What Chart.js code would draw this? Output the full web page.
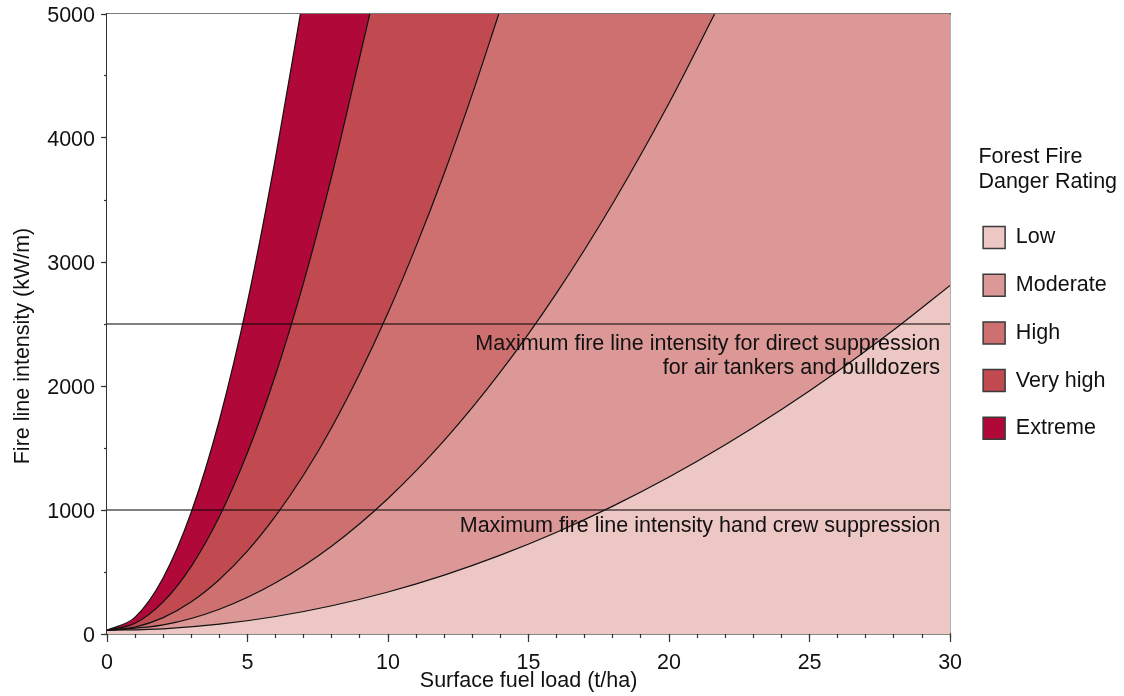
<!DOCTYPE html>
<html>
<head>
<meta charset="utf-8">
<script src="https://cdn.jsdelivr.net/npm/chart.js@4.4.1/dist/chart.umd.min.js"></script>
<style>
html,body{margin:0;padding:0;background:#ffffff;}
#wrap{width:1124px;height:696px;}
</style>
</head>
<body>
<div id="wrap"><canvas id="c" width="1124" height="696"></canvas></div>
<script>
// ---- Data ----
const bandNames  = ['Low', 'Moderate', 'High', 'Very high', 'Extreme'];
const bandColors = ['#EDC7C3', '#DC9896', '#CE7070', '#C04A50', '#B00838'];
const legendTitle = ['Forest Fire', 'Danger Rating'];
const xTitle = 'Surface fuel load (t/ha)';
const yTitle = 'Fire line intensity (kW/m)';

const xTickStep = 5;
const yTickStep = 1000;

// Boundary Low | Moderate
const lowModX = [0, 2, 4, 6, 8, 10, 12, 14, 16, 18, 20, 22, 24, 26, 28, 30];
const lowModY = [30, 42, 79, 141, 228, 339, 475, 636, 821, 1031, 1266, 1526, 1810, 2119, 2453, 2811];
// Boundary Moderate | High
const modHighX = [0, 2, 4, 6, 8, 10, 12, 14, 16, 18, 20, 21.62];
const modHighY = [30, 73, 200, 413, 710, 1093, 1561, 2113, 2751, 3474, 4282, 5000];
// Boundary High | Very high
const highVhX = [0, 1, 2, 3, 4, 5, 6, 7, 8, 9, 10, 11, 12, 13, 13.94];
const highVhY = [30, 56, 132, 260, 440, 670, 952, 1284, 1668, 2104, 2590, 3128, 3716, 4356, 5000];
// Boundary Very high | Extreme
const vhExtX = [0, 1, 2, 3, 4, 5, 6, 7, 8, 9, 9.35];
const vhExtY = [30, 87, 259, 546, 947, 1463, 2093, 2838, 3697, 4660, 5000];
// Upper edge of Extreme
const extEdgeX = [0, 1, 2, 3, 4, 5, 6, 6.88];
const extEdgeY = [30, 136, 454, 984, 1726, 2680, 3846, 5000];
// Baseline
const baseX = [0, 30];
const baseY = [0, 0];

// Suppression limits
const directSuppression = 2500;
const handCrew = 1000;
const limitX = [0, 30];
const annoDirect = ['Maximum fire line intensity for direct suppression', 'for air tankers and bulldozers'];
const annoHand = 'Maximum fire line intensity hand crew suppression';

// ---- Chart ----
const FONT = '"Liberation Sans", Arial, Helvetica, sans-serif';
const FSIZE = 21.5;
Chart.defaults.font.family = FONT;
Chart.defaults.font.size = FSIZE;
Chart.defaults.color = '#111111';

function pts(xs, ys) { return xs.map((x, i) => ({x: x, y: ys[i]})); }
function noPad(s) { s.paddingTop = 0; s.paddingBottom = 0; s.paddingLeft = 0; s.paddingRight = 0; }

const curve = {borderColor: '#111111', borderWidth: 1.2, pointRadius: 0, pointHoverRadius: 0,
  cubicInterpolationMode: 'monotone', xAxisID: 'x', yAxisID: 'y'};
const limitLine = {fill: false, borderColor: '#000000', borderWidth: 1.1, pointRadius: 0, pointHoverRadius: 0,
  xAxisID: 'x', yAxisID: 'y'};

const textPlugin = {
  id: 'textPlugin',
  afterDatasetsDraw(chart) {
    const {ctx, chartArea, scales} = chart;
    const y = scales.y;
    ctx.save();
    ctx.font = FSIZE + 'px ' + FONT;
    ctx.fillStyle = '#111111';
    ctx.textAlign = 'right';
    ctx.textBaseline = 'alphabetic';
    const xr = chartArea.right - 10;
    const y1 = y.getPixelForValue(directSuppression);
    ctx.fillText(annoDirect[0], xr, y1 + 26);
    ctx.fillText(annoDirect[1], xr, y1 + 50);
    const y2 = y.getPixelForValue(handCrew);
    ctx.fillText(annoHand, xr, y2 + 22);
    ctx.restore();
  },
  afterDraw(chart) {
    const {ctx, chartArea} = chart;
    const lg = chart.legend;
    ctx.save();
    ctx.font = FSIZE + 'px ' + FONT;
    ctx.fillStyle = '#111111';
    ctx.textAlign = 'left';
    ctx.textBaseline = 'alphabetic';
    ctx.fillText(legendTitle[0], lg.left + 21, lg.top + 149);
    ctx.fillText(legendTitle[1], lg.left + 21, lg.top + 174);
    // y axis title
    ctx.translate(23, (chartArea.top + chartArea.bottom) / 2 + 22);
    ctx.rotate(-Math.PI / 2);
    ctx.textAlign = 'center';
    ctx.textBaseline = 'middle';
    ctx.fillText(yTitle, 0, 0);
    ctx.restore();
  }
};

new Chart(document.getElementById('c'), {
  type: 'line',
  data: {
    datasets: [
      Object.assign({label: 'Extreme upper edge', data: pts(extEdgeX, extEdgeY), fill: 'end', backgroundColor: '#ffffff'}, curve),
      Object.assign({label: 'Very high | Extreme', data: pts(vhExtX, vhExtY), fill: 'end', backgroundColor: bandColors[4]}, curve),
      Object.assign({label: 'High | Very high', data: pts(highVhX, highVhY), fill: 'end', backgroundColor: bandColors[3]}, curve),
      Object.assign({label: 'Moderate | High', data: pts(modHighX, modHighY), fill: 'end', backgroundColor: bandColors[2]}, curve),
      Object.assign({label: 'Low | Moderate', data: pts(lowModX, lowModY), fill: 'end', backgroundColor: bandColors[1]}, curve),
      {label: 'Base', data: pts(baseX, baseY), fill: 'end', backgroundColor: bandColors[0], borderWidth: 0, pointRadius: 0, xAxisID: 'x', yAxisID: 'y'},
      Object.assign({label: 'Direct suppression limit', data: pts(limitX, [directSuppression, directSuppression])}, limitLine),
      Object.assign({label: 'Hand crew limit', data: pts(limitX, [handCrew, handCrew])}, limitLine)
    ]
  },
  options: {
    responsive: false,
    animation: false,
    layout: {padding: {top: 14, right: 7.3, bottom: 0, left: 0}},
    plugins: {
      tooltip: {enabled: false},
      filler: {drawTime: 'beforeDatasetsDraw'},
      legend: {
        display: true,
        position: 'right',
        align: 'start',
        maxWidth: 220,
        onClick: () => {},
        title: {display: true, text: '', padding: {top: 150, bottom: 11}, font: {size: FSIZE}},
        labels: {
          boxWidth: 22, boxHeight: 22, padding: 25.7, color: '#111111', font: {size: FSIZE},
          generateLabels: () => bandNames.map((n, i) => ({
            text: n, fillStyle: bandColors[i], strokeStyle: '#3a3a3a', lineWidth: 1.5,
            hidden: false, fontColor: '#111111', datasetIndex: i
          }))
        }
      }
    },
    scales: {
      x: {
        type: 'linear', position: 'bottom', min: 0, max: 30, weight: 1, z: 1,
        ticks: {stepSize: xTickStep, padding: 8, autoSkip: false, maxRotation: 0, color: '#111111'},
        grid: {drawOnChartArea: false, drawTicks: true, tickLength: 8, tickColor: '#333333', tickWidth: 1.2},
        border: {display: true, color: '#111111', width: 1.5},
        title: {display: true, text: xTitle, color: '#111111', padding: {top: 0, bottom: 2}},
        afterFit(s) { s.height = 62; noPad(s); }
      },
      xMinor: {
        type: 'linear', position: 'bottom', min: 0, max: 30, weight: 0,
        ticks: {display: false, stepSize: 1, autoSkip: false, maxTicksLimit: 100},
        grid: {drawOnChartArea: false, drawTicks: true, tickLength: 4, tickColor: '#333333', tickWidth: 1.2},
        border: {display: false},
        afterFit(s) { s.height = 0; noPad(s); }
      },
      x2: {
        type: 'linear', position: 'top', min: 0, max: 30, z: 1,
        ticks: {display: false},
        grid: {display: true, drawOnChartArea: false, drawTicks: false},
        border: {display: true, color: '#7a7a7a', width: 2},
        afterFit(s) { s.height = 0; noPad(s); }
      },
      y: {
        type: 'linear', position: 'left', min: 0, max: 5000, weight: 1, z: 1,
        ticks: {stepSize: yTickStep, padding: 6, labelOffset: 2, autoSkip: false, color: '#111111', callback: v => String(v)},
        grid: {drawOnChartArea: false, drawTicks: true, tickLength: 6, tickColor: '#333333', tickWidth: 1.2},
        border: {display: true, color: '#333333', width: 1.5},
        title: {display: false},
        afterFit(s) { s.width = 107; noPad(s); }
      },
      yMinor: {
        type: 'linear', position: 'left', min: 0, max: 5000, weight: 0,
        ticks: {display: false, stepSize: 500, autoSkip: false, maxTicksLimit: 100},
        grid: {drawOnChartArea: false, drawTicks: true, tickLength: 3, tickColor: '#333333', tickWidth: 1.2},
        border: {display: false},
        afterFit(s) { s.width = 0; noPad(s); }
      },
      y2: {
        type: 'linear', position: 'right', min: 0, max: 5000, weight: 0, z: 1,
        ticks: {display: false},
        grid: {display: true, drawOnChartArea: false, drawTicks: false},
        border: {display: true, color: '#666666', width: 1.5},
        afterFit(s) { s.width = 7.3; noPad(s); }
      }
    }
  },
  plugins: [textPlugin]
});
</script>
</body>
</html>
